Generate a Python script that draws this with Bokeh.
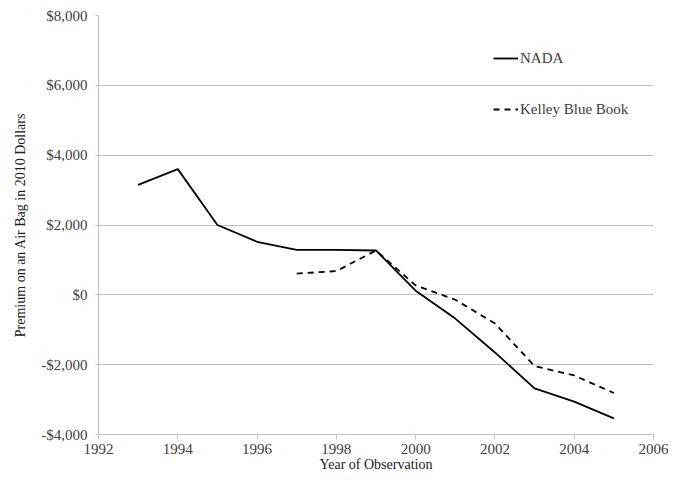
from bokeh.plotting import figure
from bokeh.models import (Range1d, FixedTicker, CustomJSTickFormatter, Legend, LegendItem)
from bokeh.embed import file_html
from bokeh.resources import INLINE

years_nada = [1993, 1994, 1995, 1996, 1997, 1998, 1999, 2000, 2001, 2002, 2003, 2004, 2005]
nada = [3150, 3600, 2000, 1520, 1290, 1290, 1270, 120, -680, -1650, -2680, -3060, -3540]
years_kbb = [1997, 1998, 1999, 2000, 2001, 2002, 2003, 2004, 2005]
kbb = [610, 680, 1270, 270, -140, -820, -2040, -2310, -2810]
x_ticks = [1992, 1994, 1996, 1998, 2000, 2002, 2004, 2006]
y_ticks = [-4000, -2000, 0, 2000, 4000, 6000, 8000]

FONT = "Liberation Serif"
TXT = "#404040"
GRID = "#bfbfbf"

p = figure(width=673, height=480, output_backend="svg", toolbar_location=None,
           x_range=Range1d(1992, 2006), y_range=Range1d(-4000, 8000),
           min_border_left=98, min_border_right=20, min_border_top=15, min_border_bottom=46)
p.outline_line_color = None
p.background_fill_color = "white"
p.border_fill_color = "white"

p.xaxis.ticker = FixedTicker(ticks=x_ticks)
p.yaxis.ticker = FixedTicker(ticks=y_ticks)
p.yaxis.formatter = CustomJSTickFormatter(code="""
var a = Math.abs(tick).toLocaleString('en-US');
return (tick < 0 ? '-$' : '$') + a;
""")
p.xgrid.grid_line_color = None
p.ygrid.grid_line_color = GRID
p.ygrid.grid_line_width = 1

for ax in (p.xaxis[0], p.yaxis[0]):
    ax.axis_line_color = GRID
    ax.major_tick_line_color = GRID
    ax.minor_tick_line_color = None
    ax.major_tick_in = 0
    ax.major_label_text_font = FONT
    ax.major_label_text_font_size = "15px"
    ax.major_label_text_color = TXT
    ax.axis_label_text_font = FONT
    ax.axis_label_text_font_size = "14px"
    ax.axis_label_text_color = "#202020"
    ax.axis_label_text_font_style = "normal"

p.xaxis.major_tick_out = 5
p.yaxis.major_tick_out = 3
p.xaxis.major_label_standoff = 4
p.yaxis.major_label_standoff = 8
p.xaxis.axis_label = "Year of Observation"
p.yaxis.axis_label = "Premium on an Air Bag in 2010 Dollars"
p.xaxis.axis_label_standoff = 0
p.yaxis.axis_label_standoff = 10

r1 = p.line(years_nada, nada, line_color="black", line_width=1.8)
r2 = p.line(years_kbb, kbb, line_color="black", line_width=1.8, line_dash="6 5")

legend = Legend(items=[LegendItem(label="NADA", renderers=[r1]),
                       LegendItem(label="Kelley Blue Book", renderers=[r2])],
                location=(395, 315), orientation="vertical",
                padding=0, margin=0, spacing=31,
                glyph_width=25, glyph_height=20, label_height=20,
                label_standoff=2,
                border_line_color=None, background_fill_alpha=0,
                label_text_font=FONT, label_text_font_size="15px",
                label_text_color=TXT)
p.add_layout(legend, "center")

open("out.html", "w").write(file_html(p, INLINE))
